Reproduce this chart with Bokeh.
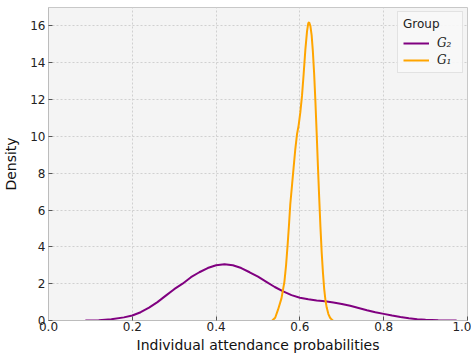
from bokeh.plotting import figure
from bokeh.models import Range1d, FixedTicker, Legend, LegendItem, NumeralTickFormatter
from bokeh.embed import file_html
from bokeh.resources import INLINE

# G2 density curve
g2_x = [0.088, 0.12, 0.15, 0.18, 0.20, 0.22, 0.24, 0.26, 0.28, 0.30, 0.32, 0.34, 0.36, 0.38,
        0.40, 0.42, 0.44, 0.46, 0.48, 0.50, 0.52, 0.54, 0.56, 0.58, 0.60, 0.62, 0.64, 0.66,
        0.68, 0.70, 0.72, 0.74, 0.76, 0.78, 0.80, 0.82, 0.84, 0.86, 0.88, 0.90, 0.93, 0.974]
g2_y = [0.0, 0.02, 0.07, 0.17, 0.27, 0.45, 0.7, 1.0, 1.35, 1.7, 2.0, 2.35, 2.62, 2.85,
        3.0, 3.05, 3.0, 2.85, 2.62, 2.38, 2.1, 1.82, 1.58, 1.38, 1.24, 1.15, 1.09, 1.04,
        0.98, 0.9, 0.8, 0.68, 0.56, 0.45, 0.36, 0.27, 0.19, 0.12, 0.07, 0.04, 0.015, 0.0]

# G1 density curve
g1_x = [0.534, 0.541, 0.548, 0.556, 0.563, 0.567, 0.571, 0.574, 0.577, 0.581, 0.585, 0.589,
        0.593, 0.597, 0.601, 0.605, 0.609, 0.613, 0.617, 0.620, 0.622, 0.625, 0.628, 0.631,
        0.634, 0.637, 0.640, 0.643, 0.646, 0.649, 0.652, 0.655, 0.658, 0.661, 0.664, 0.668,
        0.672, 0.676, 0.679]
g1_y = [0.0, 0.15, 0.6, 1.2, 2.1, 3.0, 4.2, 5.2, 6.3, 7.3, 8.3, 9.3,
        10.1, 10.6, 11.3, 12.2, 13.4, 14.7, 15.7, 16.15, 16.2, 16.0, 15.5, 14.6,
        13.4, 11.9, 10.2, 8.4, 6.7, 5.1, 3.7, 2.6, 1.7, 1.1, 0.7, 0.35,
        0.15, 0.05, 0.0]

x_ticks = [0.0, 0.2, 0.4, 0.6, 0.8, 1.0]
y_ticks = [0, 2, 4, 6, 8, 10, 12, 14, 16]

p = figure(width=471, height=356, output_backend="svg", toolbar_location=None,
           x_range=Range1d(0, 1), y_range=Range1d(0, 17),
           min_border_left=46, min_border_right=4, min_border_top=7, min_border_bottom=36)

p.background_fill_color = "#f4f4f4"
p.border_fill_color = "white"
p.outline_line_color = "#c8c8c8"
p.outline_line_width = 1

for ax in (p.xaxis[0], p.yaxis[0]):
    ax.axis_line_color = "#bcbcbc"
    ax.major_tick_in = 4
    ax.major_tick_out = 0
    ax.minor_tick_in = 0
    ax.minor_tick_out = 0
    ax.major_tick_line_color = "#555555"
    ax.major_label_text_font = "DejaVu Sans"
    ax.major_label_text_font_size = "12px"
    ax.major_label_text_color = "#222222"
    ax.axis_label_text_font = "DejaVu Sans"
    ax.axis_label_text_font_size = "14px"
    ax.axis_label_text_font_style = "normal"
    ax.axis_label_text_color = "#111111"

p.xaxis.ticker = FixedTicker(ticks=x_ticks)
p.yaxis.ticker = FixedTicker(ticks=y_ticks)
p.xaxis.formatter = NumeralTickFormatter(format="0.0")
p.xaxis.axis_label = "Individual attendance probabilities"
p.yaxis.axis_label = "Density"
p.xaxis.major_label_standoff = 1
p.yaxis.major_label_standoff = 3
p.xaxis.axis_label_standoff = 3
p.yaxis.axis_label_standoff = 8

p.grid.grid_line_color = "#d0d0d0"
p.grid.grid_line_dash = "2 2"
p.grid.grid_line_width = 1

r2 = p.line(g2_x, g2_y, line_color="#800080", line_width=2)
r1 = p.line(g1_x, g1_y, line_color="#FFA500", line_width=2)

legend = Legend(items=[LegendItem(label="G₂", renderers=[r2]),
                       LegendItem(label="G₁", renderers=[r1])],
                location="top_right")
legend.title = "Group"
legend.title_text_font = "DejaVu Sans"
legend.title_text_font_size = "12px"
legend.title_text_font_style = "normal"
legend.title_text_color = "#222222"
legend.label_text_font = "DejaVu Serif"
legend.label_text_font_style = "italic"
legend.label_text_font_size = "12px"
legend.label_text_color = "#222222"
legend.border_line_color = "#cccccc"
legend.background_fill_color = "#f8f8f8"
legend.background_fill_alpha = 0.9
legend.glyph_width = 26
legend.glyph_height = 14
legend.spacing = 3
legend.padding = 5
legend.margin = 4
legend.label_standoff = 8
p.add_layout(legend)

open("out.html", "w").write(file_html(p, INLINE))
